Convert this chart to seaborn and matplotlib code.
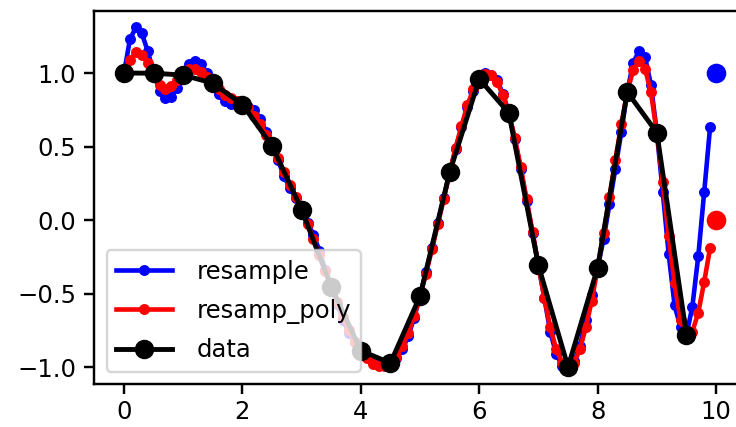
import numpy as np
import seaborn as sns
import matplotlib
matplotlib.use('Agg')
import matplotlib.pyplot as plt

# original samples (20 points, step 0.5)
x_data = [0.0, 0.5, 1.0, 1.5, 2.0, 2.5, 3.0, 3.5, 4.0, 4.5,
          5.0, 5.5, 6.0, 6.5, 7.0, 7.5, 8.0, 8.5, 9.0, 9.5]
y_data = [1.000, 0.999, 0.986, 0.931, 0.786, 0.505, 0.071, -0.453, -0.889, -0.973,
          -0.517, 0.324, 0.960, 0.729, -0.309, -1.000, -0.324, 0.871, 0.595, -0.781]

# upsampled grid (100 points, step 0.1)
x_new = [round(i * 0.1, 1) for i in range(100)]

y_resample = [1.00, 1.23, 1.31, 1.27, 1.15, 1.00, 0.88, 0.83, 0.84, 0.90,
              0.99, 1.06, 1.08, 1.06, 1.00, 0.93, 0.86, 0.81, 0.79, 0.79,
              0.79, 0.77, 0.75, 0.69, 0.60, 0.505, 0.41, 0.30, 0.22, 0.15,
              0.071, -0.02, -0.10, -0.21, -0.34, -0.453, -0.57, -0.68, -0.77, -0.83,
              -0.889, -0.93, -0.96, -0.98, -0.99, -0.973, -0.94, -0.88, -0.79, -0.665,
              -0.517, -0.355, -0.19, -0.02, 0.15, 0.324, 0.48, 0.63, 0.77, 0.88,
              0.960, 1.00, 0.99, 0.95, 0.86, 0.726, 0.55, 0.35, 0.13, -0.09,
              -0.308, -0.53, -0.76, -0.91, -0.99, -1.00, -0.96, -0.86, -0.68, -0.51,
              -0.324, -0.13, 0.11, 0.35, 0.60, 0.871, 1.07, 1.15, 1.11, 0.92,
              0.595, 0.19, -0.23, -0.58, -0.73, -0.781, -0.59, -0.245, 0.19, 0.635]

y_poly = [1.00, 1.09, 1.14, 1.12, 1.07, 1.00, 0.92, 0.89, 0.91, 0.95,
          0.986, 1.03, 1.03, 1.01, 0.97, 0.931, 0.89, 0.85, 0.83, 0.81,
          0.786, 0.76, 0.71, 0.65, 0.58, 0.505, 0.42, 0.33, 0.24, 0.16,
          0.071, -0.03, -0.13, -0.24, -0.35, -0.453, -0.56, -0.66, -0.75, -0.83,
          -0.889, -0.94, -0.98, -0.995, -0.995, -0.973, -0.93, -0.86, -0.77, -0.655,
          -0.517, -0.365, -0.20, -0.03, 0.145, 0.324, 0.49, 0.64, 0.78, 0.89,
          0.960, 0.995, 0.99, 0.94, 0.85, 0.726, 0.56, 0.36, 0.14, -0.08,
          -0.308, -0.53, -0.73, -0.88, -0.97, -1.00, -0.97, -0.88, -0.73, -0.55,
          -0.324, -0.09, 0.16, 0.41, 0.65, 0.871, 1.02, 1.08, 1.03, 0.87,
          0.595, 0.26, -0.11, -0.43, -0.68, -0.781, -0.76, -0.63, -0.42, -0.19]

# boundary values at x = 10
x_bound = [10.0]
y_bound_fft = [1.0]
y_bound_poly = [0.0]

plt.rcParams['axes.linewidth'] = 1.0
plt.rcParams['xtick.major.size'] = 4
plt.rcParams['ytick.major.size'] = 4
plt.rcParams['xtick.major.width'] = 1.0
plt.rcParams['ytick.major.width'] = 1.0
plt.rcParams['xtick.major.pad'] = 2.5

fig = plt.figure(figsize=(736 / 175, 427 / 175), dpi=175)
ax = fig.add_axes([0.1283, 0.1007, 0.8848, 0.8747])

sns.lineplot(x=x_new, y=y_resample, ax=ax, color='blue', marker='.', markersize=7,
             markeredgecolor='blue', markeredgewidth=1, linewidth=1.9,
             sort=False, label='resample')
sns.lineplot(x=x_new, y=y_poly, ax=ax, color='red', marker='.', markersize=7,
             markeredgecolor='red', markeredgewidth=1, linewidth=1.9,
             sort=False, label='resamp_poly')
sns.lineplot(x=x_data, y=y_data, ax=ax, color='black', marker='o', markersize=7,
             markeredgecolor='black', markeredgewidth=1, linewidth=2.0,
             sort=False, label='data')
sns.scatterplot(x=x_bound, y=y_bound_fft, ax=ax, color='blue', s=50,
                edgecolor='blue', linewidth=1, zorder=3)
sns.scatterplot(x=x_bound, y=y_bound_poly, ax=ax, color='red', s=50,
                edgecolor='red', linewidth=1, zorder=3)

ax.set_xlim(-0.5, 10.5)
ax.set_ylim(-1.1155, 1.4255)
ax.set_xticks([0, 2, 4, 6, 8, 10])
ax.set_yticks([-1.0, -0.5, 0.0, 0.5, 1.0])
ax.legend(loc='lower left', handlelength=2.3, handletextpad=1.0, labelspacing=0.6)

fig.savefig('out.png', dpi=175)
